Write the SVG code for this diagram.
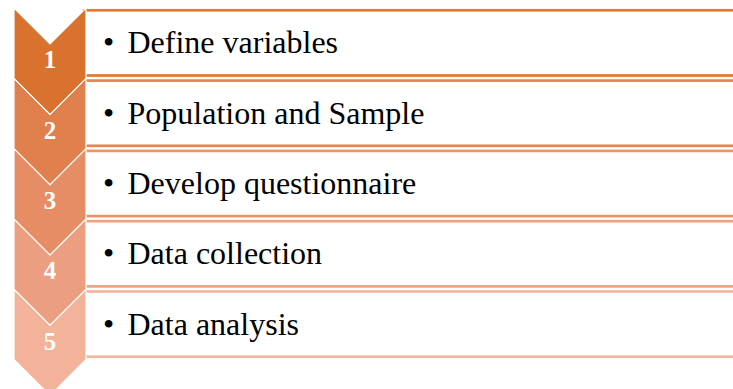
<svg xmlns="http://www.w3.org/2000/svg" width="733" height="389" viewBox="0 0 733 389">
  <style>
    .box { fill: #ffffff; stroke-width: 2.7; }
    .chev { stroke: #ffffff; stroke-width: 1.2; stroke-linejoin: miter; }
    .num { font-family: "Liberation Serif", "Times New Roman", serif; font-weight: bold; font-size: 25px; fill: #ffffff; text-anchor: middle; }
    .item { font-family: "Liberation Serif", "Times New Roman", serif; font-size: 32px; fill: #000000; }
  </style>
  <rect width="733" height="389" fill="#ffffff"/>

  <!-- text panels -->
  <g id="panel-1">
    <rect class="box" x="84" y="10.3" width="660" height="65.2" stroke="#E07A36"/>
    <text class="item" x="103" y="53.3">•</text>
    <text class="item" x="127.5" y="53.3">Define variables</text>
  </g>
  <g id="panel-2">
    <rect class="box" x="84" y="80.6" width="660" height="65.2" stroke="#E5864F"/>
    <text class="item" x="103" y="123.6">•</text>
    <text class="item" x="127.5" y="123.6">Population and Sample</text>
  </g>
  <g id="panel-3">
    <rect class="box" x="84" y="150.9" width="660" height="65.2" stroke="#EA9469"/>
    <text class="item" x="103" y="193.9">•</text>
    <text class="item" x="127.5" y="193.9">Develop questionnaire</text>
  </g>
  <g id="panel-4">
    <rect class="box" x="84" y="221.2" width="660" height="65.2" stroke="#EEA484"/>
    <text class="item" x="103" y="264.2">•</text>
    <text class="item" x="127.5" y="264.2">Data collection</text>
  </g>
  <g id="panel-5">
    <rect class="box" x="84" y="291.5" width="660" height="65.2" stroke="#F3B59C"/>
    <text class="item" x="103" y="334.5">•</text>
    <text class="item" x="127.5" y="334.5">Data analysis</text>
  </g>

  <!-- step chevrons -->
  <g id="step-5">
    <polygon class="chev" fill="#F2B39A" points="14,289.2 50,325.2 86,289.2 86,359.5 50,395.5 14,359.5"/>
    <text class="num" x="50" y="349.5">5</text>
  </g>
  <g id="step-4">
    <polygon class="chev" fill="#EC9F80" points="14,218.9 50,254.9 86,218.9 86,289.2 50,325.2 14,289.2"/>
    <text class="num" x="50" y="279.2">4</text>
  </g>
  <g id="step-3">
    <polygon class="chev" fill="#E68D66" points="14,148.6 50,184.6 86,148.6 86,218.9 50,254.9 14,218.9"/>
    <text class="num" x="50" y="208.9">3</text>
  </g>
  <g id="step-2">
    <polygon class="chev" fill="#E0804D" points="14,78.3 50,114.3 86,78.3 86,148.6 50,184.6 14,148.6"/>
    <text class="num" x="50" y="138.6">2</text>
  </g>
  <g id="step-1">
    <polygon class="chev" fill="#D8722E" points="14,8 50,44 86,8 86,78.3 50,114.3 14,78.3"/>
    <text class="num" x="50" y="68.3">1</text>
  </g>
</svg>
